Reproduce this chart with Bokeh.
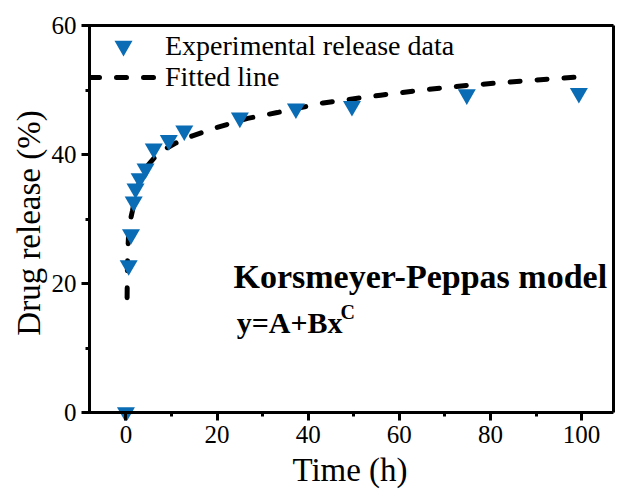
from bokeh.plotting import figure
from bokeh.models import (Range1d, SingleIntervalTicker, FixedTicker, Legend, LegendItem,
                          Label, ColumnDataSource, LinearAxis, BoxAnnotation)
from bokeh.embed import file_html
from bokeh.resources import INLINE

time_h = [0, 0.6, 1.1, 1.7, 2.1, 3.0, 4.3, 6.1, 9.4, 12.8, 25.0, 37.3, 49.6, 74.8, 99.4]
release = [0, 22.8, 27.6, 32.7, 34.7, 36.3, 37.8, 40.9, 42.2, 43.7, 45.7, 47.1, 47.5, 49.3, 49.5]

# Fitted curve
fit_x = [0.25, 0.3, 0.4, 0.6, 0.9, 1.4, 2.0, 2.7, 3.8, 4.9, 6.5, 8.7, 11, 14.6, 20,
         26.7, 33.2, 43.3, 55.9, 65, 74.8, 87, 98.9]
fit_y = [17.8, 21.5, 25.0, 27.8, 29.6, 31.2, 33.3, 35.2, 37.0, 38.4, 39.7, 40.9, 41.8,
         42.9, 44.2, 45.6, 46.5, 48.0, 49.2, 50.0, 50.7, 51.4, 52.0]

X_MIN, X_MAX = -8, 107
Y_MIN, Y_MAX = 0, 60

FONT = "Liberation Serif"
BLUE = "#0a6cb4"

p = figure(width=620, height=502, output_backend="svg", toolbar_location=None,
           x_range=Range1d(X_MIN - 0.66, X_MAX), y_range=Range1d(Y_MIN - 1.24, Y_MAX),
           min_border_left=86, min_border_right=7, min_border_top=25, min_border_bottom=82)

p.xgrid.visible = False
p.ygrid.visible = False
p.outline_line_color = None
p.background_fill_color = "white"
p.border_fill_color = "white"

src_fit = ColumnDataSource(dict(x=fit_x, y=fit_y))
src_exp = ColumnDataSource(dict(x=time_h, y=release))

# plot frame box (axes box) from x = X_MIN..X_MAX, y = 0..60
p.add_layout(BoxAnnotation(left=X_MIN, right=X_MAX, bottom=Y_MIN, top=Y_MAX, fill_alpha=0,
                           line_color="black", line_width=3, line_alpha=1.0))
# left frame edge as a filled 3 px strip (about 0.66 x-units wide)
p.add_layout(BoxAnnotation(left=X_MIN - 0.33, right=X_MIN + 0.33, bottom=Y_MIN, top=Y_MAX,
                           fill_color="black", fill_alpha=1.0, line_alpha=0))

fit_r = p.line("x", "y", source=src_fit, line_color="black", line_width=5,
               line_dash="10 17", line_cap="round")
exp_r = p.scatter("x", "y", source=src_exp, marker="inverted_triangle", size=18,
                  fill_color=BLUE, line_color=BLUE, line_width=0)


def style_axis(ax):
    ax.axis_line_width = 3
    ax.axis_line_color = "black"
    ax.major_tick_line_width = 3
    ax.minor_tick_line_width = 3
    ax.major_tick_out = 8
    ax.major_tick_in = 0
    ax.minor_tick_out = 4
    ax.minor_tick_in = 0
    ax.major_label_text_font = FONT
    ax.major_label_text_font_size = "25px"
    ax.major_label_text_color = "black"
    ax.axis_label_text_font = FONT
    ax.axis_label_text_font_size = "33px"
    ax.axis_label_text_font_style = "normal"
    ax.axis_label_text_color = "black"
    ax.major_label_standoff = 5


xa = p.xaxis[0]
ya = p.yaxis[0]
xa.ticker = SingleIntervalTicker(interval=20, num_minor_ticks=2)
ya.ticker = SingleIntervalTicker(interval=20, num_minor_ticks=2)
style_axis(xa)
style_axis(ya)
# bottom axis sits at the frame bottom, 8 px below y = 0; its ticks reach up to y = 0
xa.axis_line_alpha = 0
xa.major_tick_in = 8
xa.major_tick_out = 0
xa.minor_tick_in = 8
xa.minor_tick_out = -4
# left axis sits 3 px left of the box edge; ticks reach into the box line
ya.axis_line_alpha = 0
ya.major_tick_in = 3
ya.major_tick_out = 5
ya.minor_tick_in = 3
ya.minor_tick_out = 1
ya.major_label_standoff = 5
ya.bounds = (Y_MIN, Y_MAX)
xa.axis_label = "Time (h)"
ya.axis_label = "Drug release (%)"
xa.axis_label_standoff = 6
ya.axis_label_standoff = 2

# frame lines on top and right
for place in ("above", "right"):
    ax = LinearAxis(ticker=FixedTicker(ticks=[]), axis_line_width=3,
                    major_tick_out=0, major_tick_in=0, minor_tick_out=0, minor_tick_in=0,
                    major_label_text_font_size="0px")
    if place == "right":
        ax.bounds = (Y_MIN, Y_MAX)
    p.add_layout(ax, place)

leg1 = Legend(items=[LegendItem(label="Experimental release data", renderers=[exp_r])],
              location=(3, 352))
leg1.glyph_height = 45
leg1.label_height = 45
leg2 = Legend(items=[LegendItem(label="Fitted line", renderers=[fit_r])],
              location=(3, 327))
leg2.glyph_height = 32
leg2.label_height = 32
for lg in (leg1, leg2):
    lg.margin = 0
    lg.padding = 0
    lg.spacing = 0
    lg.glyph_width = 68
    lg.label_standoff = 8
    lg.label_text_font = FONT
    lg.label_text_font_size = "28px"
    lg.label_text_color = "black"
    lg.border_line_alpha = 0
    lg.background_fill_alpha = 0
    p.add_layout(lg, "center")

lab1 = Label(x=23.6, y=21.1, text="Korsmeyer-Peppas model", text_font=FONT,
             text_font_size="34px", text_font_style="bold", text_color="black",
             text_baseline="alphabetic")
lab2 = Label(x=24.3, y=14.0, text="y=A+Bx", text_font=FONT,
             text_font_size="30px", text_font_style="bold", text_color="black",
             text_baseline="alphabetic")
lab3 = Label(x=47.1, y=15.6, text="C", text_font=FONT,
             text_font_size="20px", text_font_style="bold", text_color="black",
             text_baseline="alphabetic")
for l in (lab1, lab2, lab3):
    p.add_layout(l)

open("out.html", "w").write(file_html(p, INLINE))
